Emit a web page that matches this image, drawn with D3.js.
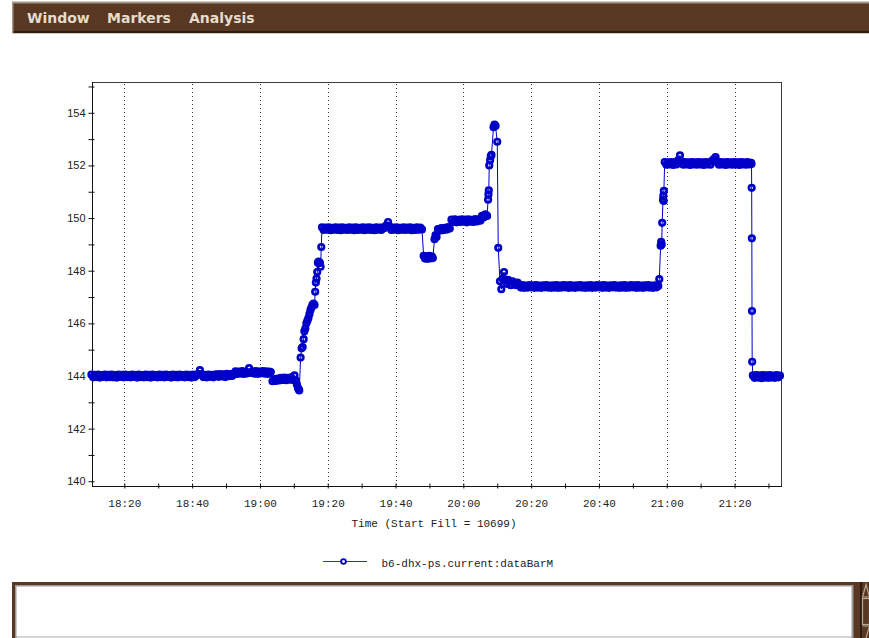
<!DOCTYPE html>
<html>
<head>
<meta charset="utf-8">
<script src="https://cdn.jsdelivr.net/npm/d3@7"></script>
<style>
html, body { margin: 0; padding: 0; background: #ffffff; overflow: hidden; }
svg { display: block; }
</style>
</head>
<body>
<svg id="chart" width="869" height="638"></svg>
<script>
// ---------------- data ----------------
const menuItems = ["Window", "Markers", "Analysis"];
const xAxisTitle = "Time (Start Fill = 10699)";
const seriesName = "b6-dhx-ps.current:dataBarM";
const yMajorTicks = [140, 142, 144, 146, 148, 150, 152, 154];
const yMinorTicks = [141, 143, 145, 147, 149, 151, 153, 155];
const xMajorTickLabels = ["18:20", "18:40", "19:00", "19:20", "19:40", "20:00", "20:20", "20:40", "21:00", "21:20"];
const xMinorTickLabels = ["18:30", "18:50", "19:10", "19:30", "19:50", "20:10", "20:30", "20:50", "21:10", "21:30"];
const timeDomain = ["18:10:28", "21:33:42"];
const valueDomain = [139.82, 155.17];

// sample times, minutes after 18:00
const sampleMinutes = [
  10.3, 10.8, 11.3, 11.8, 12.3, 12.8, 13.3, 13.8, 14.3, 14.8,
  15.3, 15.8, 16.3, 16.8, 17.3, 17.8, 18.3, 18.8, 19.3, 19.8,
  20.3, 20.8, 21.3, 21.8, 22.3, 22.8, 23.3, 23.8, 24.3, 24.8,
  25.3, 25.8, 26.3, 26.8, 27.3, 27.8, 28.3, 28.8, 29.3, 29.8,
  30.3, 30.8, 31.3, 31.8, 32.3, 32.8, 33.3, 33.8, 34.3, 34.8,
  35.3, 35.8, 36.3, 36.8, 37.3, 37.8, 38.3, 38.8, 39.3, 39.8,
  40.3, 40.8, 41.3, 41.8, 42.3, 42.8, 43.3, 43.8, 44.3, 44.8,
  45.3, 45.8, 46.3, 46.8,
  47.3, 47.8, 48.3, 48.8, 49.3, 49.8, 50.3, 50.8, 51.3, 51.8, 52.3,
  52.8, 53.3, 53.8, 54.3, 54.8, 55.3, 55.8, 56.3, 56.8, 57.3, 57.8, 58.3, 58.8, 59.3, 59.8, 60.3, 60.8, 61.3, 61.8, 62.3, 62.8,
  63.2, 63.7, 64.2, 64.7, 65.2, 65.7, 66.2, 66.7, 67.2, 67.7, 68.2, 68.7, 69.2, 69.7, 70.2, 70.6, 70.9, 71.2, 71.4, 71.6,
  72.0, 72.3, 72.6, 72.9, 73.1, 73.4, 73.7, 74.0, 74.3, 74.6, 74.9, 75.2, 75.5, 75.8, 76.1, 76.3, 76.5, 76.7, 76.9, 77.1, 77.3, 77.5, 77.7, 77.9, 78.1,
  78.3, 78.8, 79.3, 79.8, 80.3, 80.8, 81.3, 81.8, 82.3, 82.8,
  83.3, 83.8, 84.3, 84.8, 85.3, 85.8, 86.3, 86.8, 87.3, 87.8,
  88.3, 88.8, 89.3, 89.8, 90.3, 90.8, 91.3, 91.8, 92.3, 92.8,
  93.3, 93.8, 94.3, 94.8, 95.3, 95.8, 96.3, 96.8, 97.3, 97.8,
  98.3, 98.8, 99.3, 99.8, 100.3, 100.8, 101.3, 101.8, 102.3, 102.8,
  103.3, 103.8, 104.3, 104.8, 105.3, 105.8, 106.3, 106.8, 107.3, 107.8,
  108.3, 108.7, 109.1, 109.5, 109.9, 110.3, 110.7, 111.0,
  111.5, 111.8, 112.1,
  112.5, 113.0, 113.5, 114.0, 114.5, 115.0, 115.5, 116.0,
  116.5, 117.0, 117.5, 118.0, 118.5, 119.0, 119.5, 120.0, 120.5, 121.0, 121.5, 122.0, 122.5, 123.0, 123.5, 124.0, 124.5, 125.0,
  125.5, 126.0, 126.5, 127.0,
  127.3, 127.4, 127.5, 127.65, 127.9, 128.1, 128.3, 128.9, 129.2, 129.5, 130.0, 130.3,
  130.8, 131.2, 131.6, 132.0, 132.4, 132.8, 133.2, 133.6, 134.0, 134.5, 135.0, 135.5, 136.0,
  136.5, 137.0, 137.5, 138.0, 138.5, 139.0, 139.5, 140.0, 140.5, 141.0,
  141.5, 142.0, 142.5, 143.0, 143.5, 144.0, 144.5, 145.0, 145.5, 146.0,
  146.5, 147.0, 147.5, 148.0, 148.5, 149.0, 149.5, 150.0, 150.5, 151.0,
  151.5, 152.0, 152.5, 153.0, 153.5, 154.0, 154.5, 155.0, 155.5, 156.0,
  156.5, 157.0, 157.5, 158.0, 158.5, 159.0, 159.5, 160.0, 160.5, 161.0,
  161.5, 162.0, 162.5, 163.0, 163.5, 164.0, 164.5, 165.0, 165.5, 166.0,
  166.5, 167.0, 167.5, 168.0, 168.5, 169.0, 169.5, 170.0, 170.5, 171.0,
  171.5, 172.0, 172.5, 173.0, 173.5, 174.0, 174.5, 175.0, 175.5, 176.0,
  176.5, 177.0, 177.5,
  177.8, 178.2, 178.35, 178.5, 178.65, 178.9, 179.0, 179.1, 179.15,
  179.4, 179.9, 180.4, 180.9, 181.4, 181.9, 182.4, 182.9, 183.4, 183.9,
  184.4, 184.9, 185.4, 185.9, 186.4, 186.9, 187.4, 187.9, 188.4, 188.9,
  189.4, 189.9, 190.4, 190.9, 191.4, 191.9, 192.4, 192.9, 193.4, 193.9,
  194.4, 194.9, 195.4, 195.9, 196.4, 196.9, 197.4, 197.9, 198.4, 198.9,
  199.4, 199.9, 200.4, 200.9, 201.4, 201.9, 202.4, 202.9, 203.4, 203.9,
  204.4, 204.9,
  205.0, 205.05, 205.1, 205.15, 205.2,
  205.4, 205.9, 206.4, 206.9, 207.4, 207.9, 208.4, 208.9, 209.4, 209.9, 210.4, 210.9, 211.4, 211.9, 212.4, 212.9, 213.4
];

// b6-dhx-ps.current:dataBarM readings
const sampleCurrent = [
  144.05, 143.95, 144.04, 143.96, 144.05, 143.94, 144.03, 143.97, 144.05, 143.95,
  144.04, 143.96, 144.05, 143.95, 144.03, 143.94, 144.05, 143.97, 144.04, 143.95,
  144.05, 143.96, 144.03, 143.95, 144.05, 143.97, 144.04, 143.94, 144.05, 143.96,
  144.03, 143.95, 144.05, 143.96, 144.04, 143.94, 144.05, 143.97, 144.03, 143.95,
  144.05, 143.96, 144.04, 143.95, 144.05, 143.97, 144.03, 143.94, 144.05, 143.96,
  144.04, 143.95, 144.05, 143.97, 144.03, 143.95, 144.05, 143.96, 144.04, 143.94,
  144.05, 143.96, 144.03, 144.08, 144.22, 144.06, 143.96, 144.04, 143.95, 144.05,
  143.97, 144.04, 143.95, 144.05,
  144.06, 143.97, 144.07, 143.98, 144.06, 143.96, 144.08, 143.99, 144.07, 144.00, 144.09,
  144.18, 144.08, 144.17, 144.09, 144.19, 144.08, 144.16, 144.10, 144.30, 144.12, 144.18, 144.09, 144.19, 144.08, 144.17, 144.10, 144.19, 144.09, 144.18, 144.08, 144.17,
  144.15, 143.80, 143.88, 143.81, 143.90, 143.83, 143.93, 143.85, 143.94, 143.84, 143.93, 143.86, 143.95, 143.85, 144.02, 143.82, 143.68, 143.55, 143.50, 143.45,
  144.70, 145.05, 145.10, 145.40, 145.70, 145.80, 146.00, 146.10, 146.20, 146.35, 146.50, 146.60, 146.70, 146.75, 146.70, 147.20, 147.55, 147.70, 147.95, 148.30, 148.35, 148.30, 148.30, 148.15, 148.90,
  149.65, 149.55, 149.64, 149.56, 149.65, 149.54, 149.63, 149.56, 149.65, 149.55,
  149.64, 149.54, 149.65, 149.56, 149.63, 149.55, 149.65, 149.56, 149.64, 149.54,
  149.65, 149.55, 149.63, 149.56, 149.65, 149.54, 149.64, 149.56, 149.65, 149.55,
  149.63, 149.54, 149.65, 149.56, 149.64, 149.55, 149.65, 149.62, 149.72, 149.85,
  149.68, 149.55, 149.64, 149.56, 149.65, 149.54, 149.63, 149.56, 149.65, 149.55,
  149.64, 149.56, 149.65, 149.54, 149.63, 149.55, 149.65, 149.56, 149.64, 149.57,
  148.56, 148.46, 148.55, 148.45, 148.56, 148.47, 148.55, 148.48,
  149.20, 149.35, 149.28,
  149.58, 149.52, 149.62, 149.54, 149.63, 149.56, 149.66, 149.60,
  149.94, 149.85, 149.95, 149.84, 149.93, 149.85, 149.95, 149.86, 149.94, 149.84, 149.95, 149.86, 149.93, 149.85, 149.96, 149.87, 149.95, 149.90,
  150.08, 150.02, 150.14, 150.08,
  150.70, 150.90, 151.05, 152.00, 152.20, 152.35, 152.40, 153.45, 153.55, 153.50, 152.90, 148.87,
  147.60, 147.30, 147.70, 147.95, 147.65, 147.50, 147.65, 147.55, 147.45, 147.60, 147.50, 147.45, 147.55,
  147.44, 147.36, 147.45, 147.35, 147.43, 147.36, 147.45, 147.37, 147.44, 147.35,
  147.45, 147.36, 147.43, 147.35, 147.44, 147.37, 147.45, 147.36, 147.43, 147.35,
  147.44, 147.36, 147.45, 147.35, 147.43, 147.36, 147.45, 147.37, 147.44, 147.35,
  147.45, 147.36, 147.43, 147.35, 147.44, 147.37, 147.45, 147.36, 147.43, 147.35,
  147.44, 147.36, 147.45, 147.35, 147.43, 147.36, 147.45, 147.37, 147.44, 147.35,
  147.45, 147.36, 147.43, 147.35, 147.44, 147.37, 147.45, 147.36, 147.43, 147.35,
  147.44, 147.36, 147.45, 147.35, 147.43, 147.36, 147.45, 147.37, 147.44, 147.35,
  147.45, 147.36, 147.43, 147.35, 147.44, 147.37, 147.45, 147.36, 147.43, 147.35,
  147.44, 147.37, 147.42,
  147.68, 148.95, 149.10, 149.00, 149.82, 150.70, 150.85, 150.65, 151.03,
  152.13, 152.03, 152.12, 152.04, 152.13, 152.02, 152.12, 152.04, 152.20, 152.38,
  152.14, 152.03, 152.13, 152.04, 152.12, 152.02, 152.13, 152.04, 152.12, 152.03,
  152.13, 152.04, 152.12, 152.02, 152.13, 152.04, 152.12, 152.03, 152.18, 152.24,
  152.32, 152.12, 152.03, 152.13, 152.04, 152.12, 152.02, 152.13, 152.04, 152.12,
  152.03, 152.13, 152.04, 152.12, 152.02, 152.13, 152.04, 152.12, 152.03, 152.13,
  152.04, 152.10,
  152.05, 151.15, 149.23, 146.47, 144.54,
  144.02, 143.93, 144.03, 143.94, 144.02, 143.92, 144.03, 143.94, 144.02, 143.93, 144.03, 143.94, 144.01, 143.93, 144.03, 143.95, 144.01
];

// ---------------- drawing ----------------
const W = 869, H = 638;
const plot = { left: 92, right: 781, top: 82, bottom: 486 };
const BROWN = "#583822";
const SERIES = "#0000c8";

if (sampleMinutes.length !== sampleCurrent.length) {
  console.warn("length mismatch", sampleMinutes.length, sampleCurrent.length);
}

const baseMs = Date.UTC(1900, 0, 1, 18, 0, 0);
const parseHMS = d3.utcParse("%H:%M:%S");
const parseHM = d3.utcParse("%H:%M");
const fmtHM = d3.utcFormat("%H:%M");

const n = Math.min(sampleMinutes.length, sampleCurrent.length);
const data = sampleMinutes.slice(0, n).map((m, i) => ({ t: new Date(baseMs + m * 60000), v: sampleCurrent[i] }));

const x = d3.scaleUtc().domain(timeDomain.map(parseHMS)).range([plot.left, plot.right]);
const y = d3.scaleLinear().domain(valueDomain).range([plot.bottom, plot.top]);

const svg = d3.select("#chart");
svg.append("rect").attr("width", W).attr("height", H).attr("fill", "#ffffff");

// ---- menu bar ----
const menu = svg.append("g");
menu.append("rect").attr("x", 12).attr("y", 1.5).attr("width", W - 12).attr("height", 32).attr("fill", "#a89684");
menu.append("rect").attr("x", 13.5).attr("y", 3.5).attr("width", W - 13.5).attr("height", 28).attr("fill", BROWN);
menu.append("rect").attr("x", 13.5).attr("y", 31).attr("width", W - 13.5).attr("height", 2).attr("fill", "#2e1c10");
const menuX = [27, 107, 189];
menu.selectAll("text.menu").data(menuItems).join("text")
  .attr("class", "menu")
  .attr("x", (d, i) => menuX[i])
  .attr("y", 23)
  .attr("fill", "#e6dccb")
  .style("font-family", "'DejaVu Sans', sans-serif")
  .style("font-weight", "bold")
  .style("font-size", "14px")
  .text(d => d);

// ---- grid (dotted verticals at major ticks) ----
const majorDates = xMajorTickLabels.map(parseHM);
const minorDates = xMinorTickLabels.map(parseHM).filter(d => d >= x.domain()[0] && d <= x.domain()[1]);

svg.append("g").selectAll("line").data(majorDates).join("line")
  .attr("x1", d => Math.round(x(d)) + 0.5)
  .attr("x2", d => Math.round(x(d)) + 0.5)
  .attr("y1", plot.top + 2)
  .attr("y2", plot.bottom - 1)
  .attr("stroke", "#333")
  .attr("stroke-width", 1)
  .attr("stroke-dasharray", "1,3");

// ---- frame ----
svg.append("line").attr("x1", plot.left).attr("x2", plot.right + 0.5).attr("y1", plot.top + 0.5).attr("y2", plot.top + 0.5).attr("stroke", "#3a3a3a");
svg.append("line").attr("x1", plot.right + 0.5).attr("x2", plot.right + 0.5).attr("y1", plot.top).attr("y2", plot.bottom).attr("stroke", "#3a3a3a");

// ---- y axis ----
const yAxisG = svg.append("g").attr("transform", `translate(${plot.left + 0.5},0)`);
yAxisG.call(d3.axisLeft(y).tickValues(yMajorTicks).tickSize(4).tickSizeOuter(0).tickPadding(3).tickFormat(d3.format("d")));
yAxisG.select(".domain").remove();
yAxisG.selectAll(".tick line").attr("x1", 2).attr("stroke", "#111");
yAxisG.selectAll(".tick text")
  .attr("fill", "#222")
  .style("font-family", "'Liberation Sans', Arial, sans-serif")
  .style("font-size", "11px");
const yMinorG = svg.append("g").attr("transform", `translate(${plot.left + 0.5},0)`);
yMinorG.call(d3.axisLeft(y).tickValues(yMinorTicks).tickSize(4).tickSizeOuter(0).tickFormat(""));
yMinorG.select(".domain").remove();
yMinorG.selectAll(".tick line").attr("x1", 2).attr("stroke", "#111");
svg.append("line").attr("x1", plot.left + 0.5).attr("x2", plot.left + 0.5).attr("y1", plot.top).attr("y2", plot.bottom + 1).attr("stroke", "#111");

// ---- x axis ----
const xAxisG = svg.append("g").attr("transform", `translate(0,${plot.bottom + 0.5})`);
xAxisG.call(d3.axisBottom(x).tickValues(majorDates).tickSize(2).tickSizeOuter(0).tickFormat(fmtHM));
xAxisG.select(".domain").remove();
xAxisG.selectAll(".tick line").attr("y1", -3).attr("stroke", "#111");
xAxisG.selectAll(".tick text")
  .attr("y", 20).attr("dy", 0)
  .attr("fill", "#222")
  .style("font-family", "'Liberation Mono', 'DejaVu Sans Mono', monospace")
  .style("font-size", "11px");
const xMinorG = svg.append("g").attr("transform", `translate(0,${plot.bottom + 0.5})`);
xMinorG.call(d3.axisBottom(x).tickValues(minorDates).tickSize(2).tickSizeOuter(0).tickFormat(""));
xMinorG.select(".domain").remove();
xMinorG.selectAll(".tick line").attr("y1", -3).attr("stroke", "#111");
svg.append("line").attr("x1", plot.left).attr("x2", plot.right + 1).attr("y1", plot.bottom + 0.5).attr("y2", plot.bottom + 0.5).attr("stroke", "#111");

svg.append("text")
  .attr("x", 434).attr("y", 526.5)
  .attr("text-anchor", "middle")
  .attr("fill", "#222")
  .style("font-family", "'Liberation Mono', 'DejaVu Sans Mono', monospace")
  .style("font-size", "11px")
  .text(xAxisTitle);

// ---- series ----
const line = d3.line().x(d => x(d.t)).y(d => y(d.v));
svg.append("path").datum(data)
  .attr("d", line)
  .attr("fill", "none")
  .attr("stroke", SERIES)
  .attr("stroke-width", 1);
svg.append("g").selectAll("circle").data(data).join("circle")
  .attr("cx", d => x(d.t))
  .attr("cy", d => y(d.v))
  .attr("r", 2.75)
  .attr("fill", "none")
  .attr("stroke", SERIES)
  .attr("stroke-width", 2.7);

// ---- legend ----
const lg = svg.append("g");
lg.append("line").attr("x1", 323).attr("x2", 367).attr("y1", 561.5).attr("y2", 561.5).attr("stroke", "#2a2ae0").attr("stroke-width", 1);
lg.append("circle").attr("cx", 343.5).attr("cy", 561.5).attr("r", 2.4).attr("fill", "#fff").attr("stroke", SERIES).attr("stroke-width", 1.8);
lg.append("text")
  .attr("x", 381.5).attr("y", 566.5)
  .attr("fill", "#222")
  .style("font-family", "'Liberation Mono', 'DejaVu Sans Mono', monospace")
  .style("font-size", "11px")
  .text(seriesName);

// ---- bottom text panel ----
const bp = svg.append("g");
bp.append("rect").attr("x", 12).attr("y", 582).attr("width", W - 12).attr("height", H - 582).attr("fill", BROWN);
bp.append("rect").attr("x", 15).attr("y", 585).attr("width", 838.5).attr("height", H - 585).attr("fill", "#9a9a9a");
bp.append("rect").attr("x", 16.5).attr("y", 586.5).attr("width", 835).attr("height", 49.5).attr("fill", "#ffffff");
bp.append("rect").attr("x", 16.5).attr("y", 636).attr("width", 835).attr("height", 2).attr("fill", "#d4d4d4");
bp.append("rect").attr("x", 860).attr("y", 582).attr("width", 2).attr("height", H - 582).attr("fill", "#2e1c10");
const sb = bp.append("g").attr("fill", "none").attr("stroke", "#b9a894").attr("stroke-width", 1.2);
sb.append("path").attr("d", "M862.5,597 L866,584.5 L869.5,597 Z");
sb.append("rect").attr("x", 862.5).attr("y", 598.5).attr("width", 7).attr("height", 26);
sb.append("path").attr("d", "M862.5,626 L869.5,626 L866,638");
</script>
</body>
</html>
